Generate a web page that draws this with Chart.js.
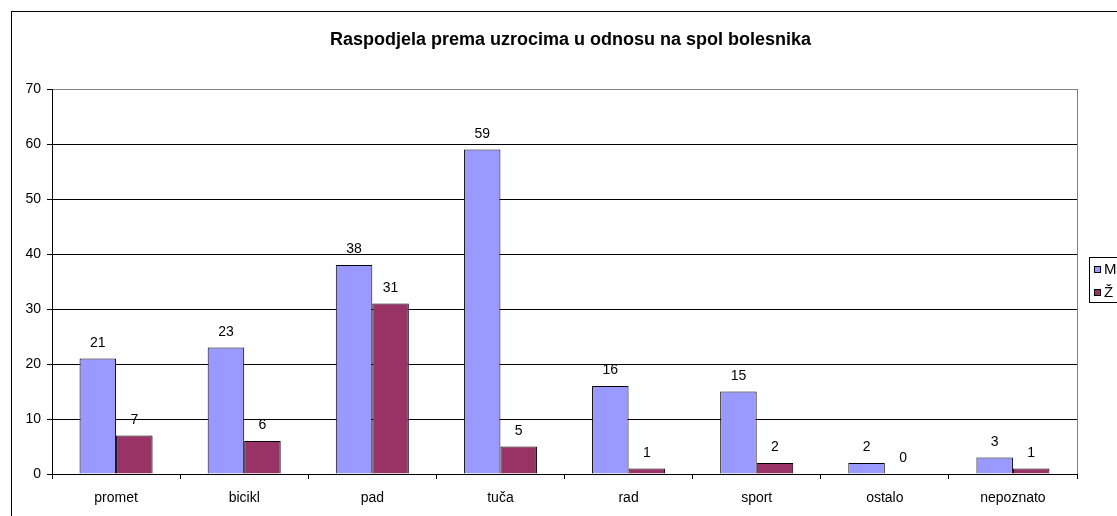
<!DOCTYPE html>
<html>
<head>
<meta charset="utf-8">
<script src="https://cdn.jsdelivr.net/npm/chart.js@4.4.1/dist/chart.umd.min.js"></script>
<style>
  html, body { margin: 0; padding: 0; overflow: hidden; background: #fff; }
  #wrap { position: relative; width: 1141px; height: 530px; }
</style>
</head>
<body>
<div id="wrap"><canvas id="chart"></canvas></div>
<script>
// data
const categories = ['promet', 'bicikl', 'pad', 'tuča', 'rad', 'sport', 'ostalo', 'nepoznato'];
const seriesNames = ['M', 'Ž'];
const maleValues = [21, 23, 38, 59, 16, 15, 2, 3];
const femaleValues = [7, 6, 31, 5, 1, 2, 0, 1];
const yTicks = [0, 10, 20, 30, 40, 50, 60, 70];
const titleText = 'Raspodjela prema uzrocima u odnosu na spol bolesnika';

const FONT = 'Arial, "Liberation Sans", sans-serif';

// outer frame, title, grey plot border, value labels, legend box
const excelBits = {
  id: 'excelBits',
  afterDraw(chart) {
    const ctx = chart.ctx;
    const a = chart.chartArea;
    ctx.save();

    // outer chart border (only left and top are on screen)
    ctx.strokeStyle = '#000';
    ctx.lineWidth = 1;
    ctx.strokeRect(11.5, 11.5, 1400, 800);

    // title, centred on the whole chart object
    ctx.fillStyle = '#000';
    ctx.font = 'bold 18px ' + FONT;
    ctx.textAlign = 'center';
    ctx.textBaseline = 'middle';
    ctx.fillText(titleText, chart.width / 2, 40);

    // plot area right edge
    ctx.strokeStyle = '#808080';
    ctx.beginPath();
    ctx.moveTo(Math.round(a.right) + 0.5, a.top);
    ctx.lineTo(Math.round(a.right) + 0.5, a.bottom);
    ctx.stroke();

    // value labels above bars
    ctx.fillStyle = '#000';
    ctx.font = '14px ' + FONT;
    ctx.textAlign = 'center';
    ctx.textBaseline = 'alphabetic';
    chart.data.datasets.forEach((ds, i) => {
      chart.getDatasetMeta(i).data.forEach((bar, j) => {
        ctx.fillText(String(ds.data[j]), bar.x, bar.y - 12);
      });
    });

    // legend
    const lx = 1089, ly = 257;
    ctx.strokeStyle = '#000';
    ctx.strokeRect(lx + 0.5, ly + 0.5, 60, 45);
    ctx.textAlign = 'left';
    ctx.textBaseline = 'middle';
    chart.data.datasets.forEach((ds, i) => {
      const cy = ly + 12 + i * 23;
      ctx.fillStyle = ds.backgroundColor;
      ctx.fillRect(lx + 5, cy - 3, 7, 7);
      ctx.strokeRect(lx + 5.5, cy - 2.5, 6, 6);
      ctx.fillStyle = '#000';
      ctx.font = '15px ' + FONT;
      ctx.fillText(ds.label, lx + 15, cy + 1);
    });

    ctx.restore();
  }
};

new Chart(document.getElementById('chart'), {
  type: 'bar',
  data: {
    labels: categories,
    datasets: [{
      label: seriesNames[0],
      data: maleValues,
      backgroundColor: '#9999FF',
      borderColor: '#000',
      borderWidth: 1,
      borderSkipped: 'start'
    }, {
      label: seriesNames[1],
      data: femaleValues,
      backgroundColor: '#993366',
      borderColor: '#000',
      borderWidth: 1,
      borderSkipped: 'start'
    }]
  },
  options: {
    responsive: true,
    maintainAspectRatio: false,
    animation: false,
    datasets: {
      bar: { categoryPercentage: 0.57, barPercentage: 1 }
    },
    layout: { padding: { left: 0, right: 64, top: 89, bottom: 0 } },
    plugins: {
      legend: { display: false },
      tooltip: { enabled: false },
      title: { display: false }
    },
    scales: {
      x: {
        afterFit: s => { s.height = 56; },
        grid: {
          offset: true,
          drawOnChartArea: false,
          drawTicks: true,
          tickLength: 5,
          tickColor: '#000'
        },
        border: { color: '#000', width: 1 },
        ticks: {
          color: '#000',
          padding: 11,
          font: { family: FONT, size: 14 }
        }
      },
      y: {
        min: 0,
        max: 70,
        afterFit: s => { s.width = 52; },
        afterBuildTicks: s => { s.ticks = yTicks.map(v => ({ value: v })); },
        grid: {
          color: c => (c.tick && c.tick.value === 70 ? '#808080' : '#000'),
          tickColor: '#000',
          tickLength: 5,
          lineWidth: 1
        },
        border: { color: '#000', width: 1 },
        ticks: {
          color: '#000',
          padding: 6,
          font: { family: FONT, size: 14 }
        }
      }
    }
  },
  plugins: [excelBits]
});
</script>
</body>
</html>
